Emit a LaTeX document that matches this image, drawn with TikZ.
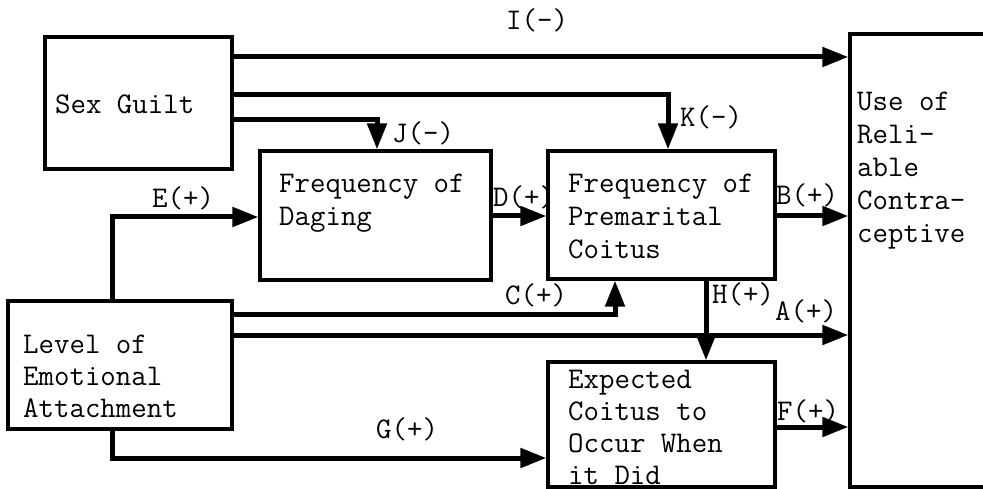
\documentclass[tikz,border=0pt]{standalone}
\usepackage{fontspec}
\usetikzlibrary{arrows.meta}
\newcommand\twfont[1]{\ttfamily\addfontfeatures{FakeBold=2}\fontsize{30}{#1}\selectfont}
\begin{document}
\begin{tikzpicture}[x=1pt,y=-1pt,
  box/.style={draw, line width=3.2pt, inner sep=0pt},
  conn/.style={line width=5pt, -{Triangle[length=26pt,width=19pt]}},
  txt/.style={font=\twfont{33}, align=left, inner sep=0pt, anchor=north west},
  txtb/.style={font=\twfont{32}, align=left, inner sep=0pt, anchor=north west},
  lab/.style={font=\twfont{33}, inner sep=0pt, anchor=base west}]
\clip (0,0) rectangle (983,489);
\fill[white] (0,0) rectangle (983,489);
% boxes
\node[box, minimum width=187pt, minimum height=132pt] (sg)  at (138.5,103) {};
\node[box, minimum width=231pt, minimum height=129pt] (dat) at (375.5,215.5) {};
\node[box, minimum width=227pt, minimum height=128pt] (pre) at (661.5,215) {};
\node[box, minimum width=227pt, minimum height=125pt] (exp) at (661.5,424.5) {};
\node[box, minimum width=224pt, minimum height=128pt] (lev) at (120,365) {};
\node[box, minimum width=170pt, minimum height=453pt] (use) at (935,260.5) {};
% box texts
\node[txt] (sgT)  at (55,89.9)   {\strut Sex Guilt};
\node[txt] (datT) at (279,168.9) {\strut Frequency of\\Daging};
\node[txt] (preT) at (568,168.9) {\strut Frequency of\\Premarital\\Coitus};
\node[txt] (useT) at (857,86.9)  {\strut Use of\\Reli-\\able\\Contra-\\ceptive};
\node[txtb] (levT) at (23,330.6)  {\strut Level of\\Emotional\\Attachment};
\node[txtb] (expT) at (568,365.6) {\strut Expected\\Coitus to\\Occur When\\it Did};
% helper coordinates
\coordinate (ic) at (0,57);
\coordinate (kc) at (668,95);
\coordinate (jc) at (377,120);
\coordinate (ec) at (112,217);
\coordinate (dc) at (0,216);
\coordinate (cc) at (615,314);
\coordinate (ac) at (0,335);
\coordinate (hc) at (706,0);
\coordinate (fc) at (0,427);
\coordinate (gc) at (112,458);
% connectors
\draw[conn] (sg.east |- ic) -- (use.west |- ic);
\draw[conn] (sg.east |- kc) -| (pre.north -| kc);
\draw[conn] (sg.east |- jc) -| (dat.north -| jc);
\draw[conn] (lev.north -| ec) |- (dat.west |- ec);
\draw[conn] (dat.east |- dc) -- (pre.west |- dc);
\draw[conn] (pre.east |- dc) -- (use.west |- dc);
\draw[conn] (lev.east |- cc) -| (pre.south -| cc);
\draw[conn] (lev.east |- ac) -- (use.west |- ac);
\draw[conn] (pre.south -| hc) -- (exp.north -| hc);
\draw[conn] (exp.east |- fc) -- (use.west |- fc);
\draw[conn] (lev.south -| gc) |- (exp.west |- gc);
% labels
\node[lab] (lI) at (506,30)  {I(-)};
\node[lab] (lK) at (680,127) {K(-)};
\node[lab] (lJ) at (392,143) {J(-)};
\node[lab] (lE) at (152,208) {E(+)};
\node[lab] (lD) at (493,207) {D(+)};
\node[lab] (lB) at (776,205) {B(+)};
\node[lab] (lC) at (505,305) {C(+)};
\node[lab] (lH) at (712,303) {H(+)};
\node[lab] (lA) at (775,320) {A(+)};
\node[lab] (lF) at (777,420) {F(+)};
\node[lab] (lG) at (376,438) {G(+)};
\end{tikzpicture}
\end{document}
